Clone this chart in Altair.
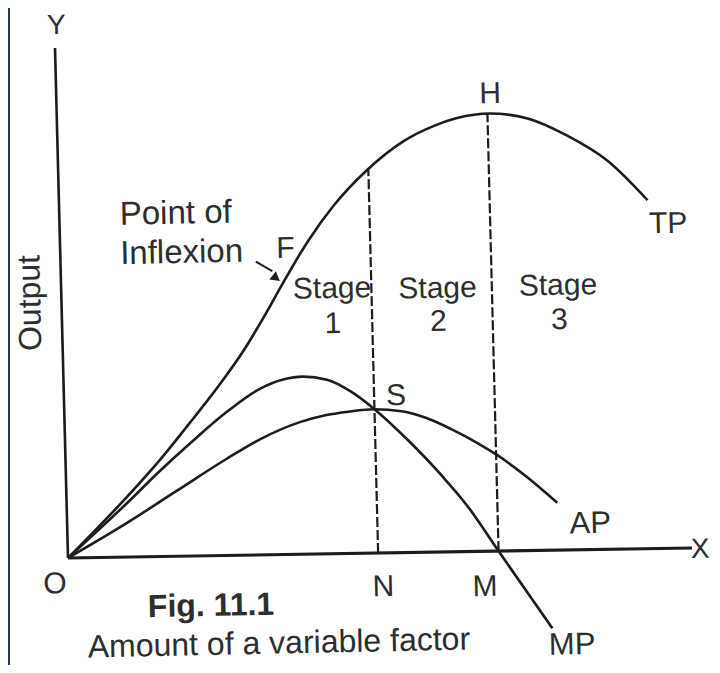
import altair as alt
import pandas as pd

# ---- values (x = amount of variable factor, y = output) ----
tp_x = [0, 9.7, 15.1, 20.6, 24.6, 29.2, 32.2, 35.6, 39.6, 43.9, 49.5, 55.4, 60.3, 64.1, 69.4, 75.4, 81.7, 88.0, 94.3]
tp_y = [0, 11.8, 18.9, 26.9, 32.9, 40.5, 46.3, 53.3, 61.1, 68.1, 75.1, 80.6, 83.5, 85.0, 85.8, 84.7, 81.2, 76.2, 68.3]
ap_x = [0, 9.6, 17.8, 25.9, 31.3, 37.7, 42.0, 45.5, 49.7, 54.0, 58.0, 62.0, 66.0, 69.2, 73.9, 78.6]
ap_y = [0, 6.7, 12.9, 19.0, 22.7, 25.9, 27.2, 27.8, 28.2, 27.7, 26.3, 24.0, 21.3, 18.8, 14.4, 9.3]
mp_x = [0, 9.7, 15.1, 20.5, 26.1, 31.5, 35.2, 38.4, 42.2, 45.9, 49.7, 54.8, 60.4, 64.1, 69.0, 77.3]
mp_y = [0, 10.6, 16.8, 22.6, 28.2, 32.6, 34.3, 34.8, 34.1, 31.8, 28.2, 22.2, 14.7, 9.1, 0, -15.3]

N_X = 49.7      # end of stage 1 (AP max, point S)
M_X = 69.0      # end of stage 2 (TP max, point H)
TP_AT_N = 75.3
TP_MAX = 85.9
AXIS_X_END = 100
AXIS_Y_END = 100

# ---- build tables ----
def curve(xs, ys, name):
    return pd.DataFrame({"u": xs, "v": ys, "i": range(len(xs)), "c": name})

curves = pd.concat([curve(tp_x, tp_y, "TP"), curve(ap_x, ap_y, "AP"), curve(mp_x, mp_y, "MP")])

axes_df = pd.DataFrame({"u": [0, 0], "v": [0, 0], "u2": [AXIS_X_END, 0], "v2": [0, AXIS_Y_END], "w": [3.2, 2.6]})
dash_df = pd.DataFrame({"u": [N_X, M_X], "v": [0, 0], "u2": [N_X, M_X], "v2": [TP_AT_N, TP_MAX]})
arrow_df = pd.DataFrame({"u": [31.3], "v": [57.5], "u2": [33.9], "v2": [55.6]})
head_df = pd.DataFrame({"u": [34.5], "v": [54.2]})

letters = pd.DataFrame({
    "t": ["O", "N", "M", "TP", "H", "S", "F"],
    "u": [-2.2, 50.4, 66.7, 97.5, 69.5, 53.2, 36.1],
    "v": [-5.1, -6.7, -7.0, 63.6, 89.6, 30.7, 59.9],
})
edge_letters = pd.DataFrame({"t": ["Y", "X"], "u": [0.3, 101.3], "v": [104.3, -0.4]})
letters2 = pd.DataFrame({"t": ["AP", "MP"], "u": [83.8, 80.4], "v": [5.0, -18.7]})
stages = pd.DataFrame({
    "t": ["Stage", "1", "Stage", "2", "Stage", "3"],
    "u": [43.4, 43.4, 60.3, 60.3, 79.6, 79.7],
    "v": [51.9, 45.0, 51.6, 45.1, 51.8, 45.1],
})
left_txt = pd.DataFrame({"t": ["Point of", "Inflexion"], "u": [9.7, 9.6], "v": [67.1, 59.4]})
fig_txt = pd.DataFrame({"t": ["Fig. 11.1"], "u": [12.6], "v": [-9.9]})
xtitle = pd.DataFrame({"t": ["Amount of a variable factor"], "u": [2.8], "v": [-17.6]})
ytitle = pd.DataFrame({"t": ["Output"], "u": [-5.0], "v": [50.1]})

# ---- scales (scan is slightly rotated; shear applied in the transform) ----
xs = alt.Scale(domain=[-9.295, 103.205], nice=False, zero=False)
ys = alt.Scale(domain=[-20.98, 107.84], nice=False, zero=False)
XE = "datum.u - 0.02083*datum.v"
YE = "datum.v + 0.01961*datum.u"
X2E = "datum.u2 - 0.02083*datum.v2"
Y2E = "datum.v2 + 0.01961*datum.u2"

FONT = "Liberation Sans"
TXT = "#2e2e2e"
INK = "#1c1c1c"
ANG = 358.8

def base(df):
    return alt.Chart(df).transform_calculate(X=XE, Y=YE)

def seg(df):
    return alt.Chart(df).transform_calculate(X=XE, Y=YE, X2=X2E, Y2=Y2E)

enc_xy = dict(x=alt.X("X:Q", scale=xs, axis=None), y=alt.Y("Y:Q", scale=ys, axis=None))

lines = base(curves).mark_line(color=INK, strokeWidth=2.6, interpolate="monotone").encode(
    detail="c:N", order="i:Q", **enc_xy)

axes = seg(axes_df).mark_rule(color=INK).encode(
    x2="X2:Q", y2="Y2:Q", strokeWidth=alt.StrokeWidth("w:Q", scale=None), **enc_xy)

dashes = seg(dash_df).mark_rule(color=INK, strokeWidth=2.2, strokeDash=[10, 3]).encode(
    x2="X2:Q", y2="Y2:Q", **enc_xy)

arrow = seg(arrow_df).mark_rule(color=INK, strokeWidth=2).encode(x2="X2:Q", y2="Y2:Q", **enc_xy)
head = base(head_df).mark_point(shape="triangle-up", filled=True, color=INK, size=110,
                                angle=128, opacity=1).encode(**enc_xy)

def txt(df, size, align="center", weight="normal", angle=ANG):
    return base(df).mark_text(font=FONT, fontSize=size, color=TXT, align=align,
                              baseline="middle", fontWeight=weight, angle=angle).encode(
        text="t:N", **enc_xy)

chart = alt.layer(
    axes, dashes, lines, arrow, head,
    txt(letters, 30), txt(edge_letters, 28), txt(letters2, 31), txt(stages, 30),
    txt(left_txt, 33, align="left"), txt(fig_txt, 32, align="left", weight="bold"),
    txt(xtitle, 32, align="left"), txt(ytitle, 32, angle=268.8),
).properties(
    width=702, height=657,
    autosize=alt.AutoSizeParams(type="none"),
    padding={"left": 2, "top": 0, "right": 0, "bottom": 0},
    background="#1e3a5a",
).configure_view(fill="white", strokeWidth=0)

chart.save("out.html", embed_options={"renderer": "svg", "actions": False})
